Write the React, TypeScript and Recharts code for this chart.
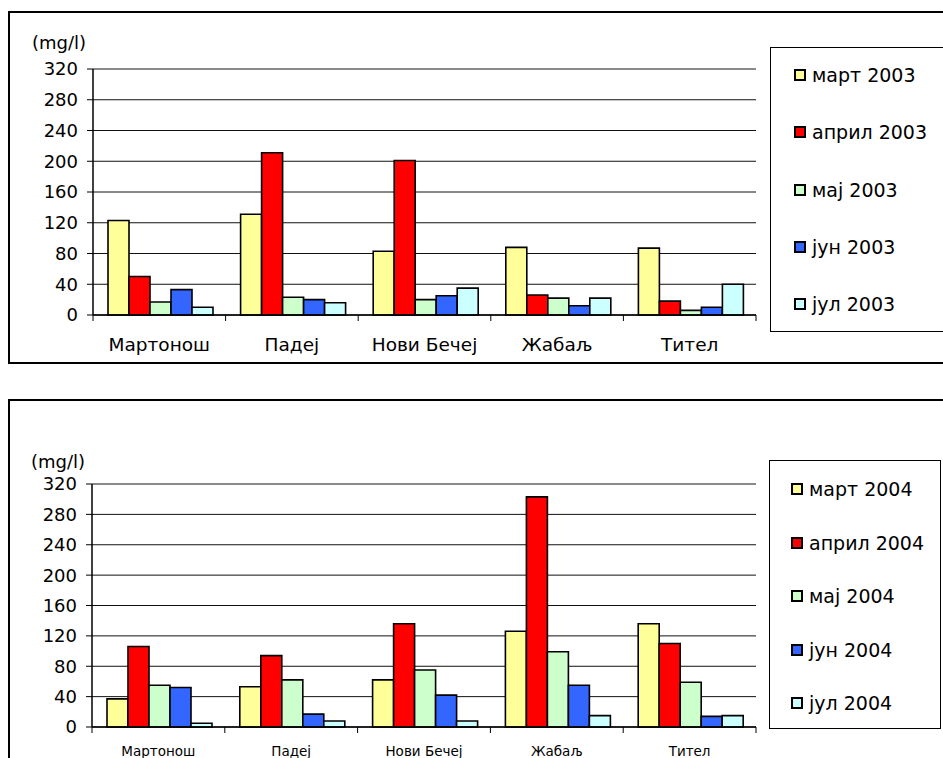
import React from "react";
import { BarChart, Bar, XAxis, YAxis, CartesianGrid, ReferenceLine } from "recharts";

const categories = ["Мартонош", "Падеј", "Нови Бечеј", "Жабаљ", "Тител"];
const seriesNames2003 = ["март 2003", "април 2003", "мај 2003", "јун 2003", "јул 2003"];
const seriesNames2004 = ["март 2004", "април 2004", "мај 2004", "јун 2004", "јул 2004"];
const colors = ["#FFFF99", "#FF0000", "#CCFFCC", "#3366FF", "#CCFFFF"];
const yTicks = [0, 40, 80, 120, 160, 200, 240, 280, 320];
const unitLabel = "(mg/l)";

const mart2003 = [123, 131, 83, 88, 87];
const april2003 = [50, 211, 201, 26, 18];
const maj2003 = [17, 23, 20, 22, 6];
const jun2003 = [33, 20, 25, 12, 10];
const jul2003 = [10, 16, 35, 22, 40];

const mart2004 = [37, 53, 62, 126, 136];
const april2004 = [106, 94, 136, 303, 110];
const maj2004 = [55, 62, 75, 99, 59];
const jun2004 = [52, 17, 42, 55, 14];
const jul2004 = [5, 8, 8, 15, 15];

const KEYS = ["s0", "s1", "s2", "s3", "s4"];

function buildRows(series: number[][]) {
  return categories.map((c, i) => {
    const row: any = { name: c };
    series.forEach((s, k) => (row[KEYS[k]] = s[i]));
    return row;
  });
}

const data2003 = buildRows([mart2003, april2003, maj2003, jun2003, jul2003]);
const data2004 = buildRows([mart2004, april2004, maj2004, jun2004, jul2004]);

const FONT = "'DejaVu Sans', 'Liberation Sans', Arial, sans-serif";

function makeTick(band: number, fontSize: number, dy: number) {
  return (props: any) => {
    const { x, y, payload, index } = props;
    const left = x - band / 2;
    const right = x + band / 2;
    return (
      <g>
        <line x1={left} x2={left} y1={y} y2={y + 6} stroke="#000" strokeWidth={1} />
        {index === categories.length - 1 && (
          <line x1={right} x2={right} y1={y} y2={y + 6} stroke="#000" strokeWidth={1} />
        )}
        <text x={x} y={y + dy} textAnchor="middle" fontSize={fontSize} fontFamily={FONT} fill="#000">
          {payload.value}
        </text>
      </g>
    );
  };
}

type ChartProps = {
  data: any[];
  names: string[];
  top: number;
  height: number;
  margin: { top: number; right: number; bottom: number; left: number };
  xFont: number;
  xDy: number;
  legendFont: number;
  legend: { left: number; top: number; width: number; height: number; first: number; step: number; markerLeft: number };
  labelPos: { left: number; top: number };
};

const CHART_W = 943;
const Y_W = 60;

function Panel(p: ChartProps) {
  const plotW = CHART_W - p.margin.left - p.margin.right - Y_W;
  const band = plotW / categories.length;
  const XTick = makeTick(band, p.xFont, p.xDy);
  return (
    <>
      <div style={{ position: "absolute", left: 0, top: p.top }}>
        <BarChart
          width={CHART_W}
          height={p.height}
          data={p.data}
          margin={p.margin}
          barCategoryGap={15}
          barGap={0}
        >
          <CartesianGrid vertical={false} stroke="#111" strokeWidth={1} />
          <XAxis
            dataKey="name"
            tickLine={false}
            tickSize={0}
            tickMargin={0}
            tick={<XTick />}
            axisLine={{ stroke: "#000", strokeWidth: 1.5 }}
            height={40}
            interval={0}
          />
          <YAxis
            domain={[0, 320]}
            ticks={yTicks}
            width={Y_W}
            tickSize={6}
            tickMargin={9}
            tickLine={{ stroke: "#000" }}
            axisLine={{ stroke: "#000", strokeWidth: 1.5 }}
            tick={{ fill: "#000", fontSize: 18, fontFamily: FONT }}
            interval={0}
          />
          <YAxis
            yAxisId="r"
            orientation="right"
            domain={[0, 320]}
            width={0}
            tick={false}
            tickLine={false}
            axisLine={{ stroke: "#8a8a8a", strokeWidth: 2 }}
          />
          <ReferenceLine y={320} stroke="#8a8a8a" strokeWidth={2} />
          {KEYS.map((k, i) => (
            <Bar
              key={k}
              dataKey={k}
              name={p.names[i]}
              fill={colors[i]}
              stroke="#000"
              strokeWidth={1.6}
              isAnimationActive={false}
            />
          ))}
        </BarChart>
      </div>
      <div
        style={{
          position: "absolute",
          left: p.labelPos.left,
          top: p.labelPos.top,
          fontSize: 18,
          fontFamily: FONT,
          lineHeight: "20px",
          color: "#000",
        }}
      >
        {unitLabel}
      </div>
      <div
        style={{
          position: "absolute",
          left: p.legend.left,
          top: p.legend.top,
          width: p.legend.width,
          height: p.legend.height,
          border: "1px solid #000",
          boxSizing: "border-box",
          background: "#fff",
        }}
      >
        {p.names.map((n, i) => (
          <div
            key={n}
            style={{
              position: "absolute",
              left: p.legend.markerLeft,
              top: p.legend.first + i * p.legend.step - 11,
              height: 22,
              display: "flex",
              alignItems: "center",
              fontSize: p.legendFont,
              fontFamily: FONT,
              color: "#000",
              whiteSpace: "nowrap",
            }}
          >
            <span
              style={{
                display: "inline-block",
                width: 12,
                height: 12,
                boxSizing: "border-box",
                border: "2px solid #000",
                background: colors[i],
                marginRight: 6,
              }}
            />
            {n}
          </div>
        ))}
      </div>
    </>
  );
}

export default function App() {
  return (
    <div
      style={{
        position: "absolute",
        left: 0,
        top: 0,
        width: 943,
        height: 758,
        overflow: "hidden",
        background: "#fff",
        fontFamily: FONT,
      }}
    >
      <div
        style={{
          position: "absolute",
          left: 8,
          top: 11,
          width: 950,
          height: 353,
          border: "2px solid #000",
          boxSizing: "border-box",
        }}
      />
      <div
        style={{
          position: "absolute",
          left: 8,
          top: 399,
          width: 950,
          height: 400,
          border: "2px solid #000",
          boxSizing: "border-box",
        }}
      />
      <Panel
        data={data2003}
        names={seriesNames2003}
        top={0}
        height={363}
        margin={{ top: 69, right: 187, bottom: 8, left: 33 }}
        xFont={18.5}
        xDy={36}
        legendFont={19}
        legend={{ left: 770, top: 47, width: 180, height: 285, first: 27, step: 57.25, markerLeft: 23 }}
        labelPos={{ left: 32, top: 33 }}
      />
      <Panel
        data={data2004}
        names={seriesNames2004}
        top={415}
        height={360}
        margin={{ top: 69, right: 187, bottom: 8, left: 32 }}
        xFont={13.5}
        xDy={29}
        legendFont={19}
        legend={{ left: 769, top: 460, width: 172, height: 269, first: 28, step: 53.5, markerLeft: 21 }}
        labelPos={{ left: 31, top: 452 }}
      />
    </div>
  );
}
